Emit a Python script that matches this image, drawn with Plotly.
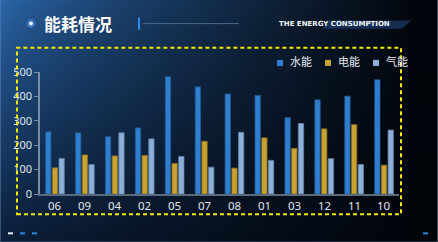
import base64, struct, zlib
import plotly.graph_objects as go

categories = ["06", "09", "04", "02", "05", "07", "08", "01", "03", "12", "11", "10"]
water = [255, 251, 235, 271, 481, 439, 410, 404, 313, 386, 401, 468]
electric = [107, 160, 156, 158, 125, 216, 106, 230, 187, 267, 284, 118]
gas = [146, 121, 251, 226, 154, 110, 253, 138, 289, 145, 121, 262]
series_names = ["水能", "电能", "气能"]
colors = ["#2f7fd0", "#c9a232", "#8db0d8"]
edge = ["#24578f", "#8a6e22", "#5f7fa3"]

W, H = 438, 242

# background gradient image (png built in memory)
def make_png(w, h, fn):
    raw = b""
    for j in range(h):
        row = b"\x00"
        for i in range(w):
            r, g, b = fn(i / (w - 1), j / (h - 1))
            row += bytes((r, g, b))
        raw += row
    def chunk(t, d):
        c = struct.pack(">I", len(d)) + t + d
        return c + struct.pack(">I", zlib.crc32(t + d) & 0xffffffff)
    png = b"\x89PNG\r\n\x1a\n"
    png += chunk(b"IHDR", struct.pack(">IIBBBBB", w, h, 8, 2, 0, 0, 0))
    png += chunk(b"IDAT", zlib.compress(raw, 9))
    png += chunk(b"IEND", b"")
    return "data:image/png;base64," + base64.b64encode(png).decode()

def grad(u, v):
    tl = (44, 104, 172); tr = (3, 7, 13); bl = (12, 32, 60); br = (2, 5, 10)
    uu = min(1.0, u * 1.05) ** 0.75
    top = [tl[k] + (tr[k] - tl[k]) * uu for k in range(3)]
    bot = [bl[k] + (br[k] - bl[k]) * uu for k in range(3)]
    vv = v ** 0.9
    return tuple(int(top[k] + (bot[k] - top[k]) * vv) for k in range(3))

bg = make_png(110, 61, grad)

fig = go.Figure()
for name, vals, c, e in zip(series_names, [water, electric, gas], colors, edge):
    fig.add_trace(go.Bar(x=categories, y=vals, name=name, showlegend=False,
                         marker=dict(color=c, line=dict(color=e, width=0.8))))

def px(x):
    return (x - 40) / 359
def py(y):
    return (194 - y) / 121

shapes = []
annotations = []
# dashed yellow frame
shapes.append(dict(type="rect", xref="paper", yref="paper", layer="above",
                   x0=px(17), x1=px(401), y0=py(214), y1=py(49),
                   line=dict(color="#f2ea00", width=2, dash="4px,3px")))

# title decorations
shapes.append(dict(type="circle", xref="paper", yref="paper", x0=px(26.5), x1=px(35.5), y0=py(29.5), y1=py(20.5),
                   fillcolor="rgba(80,150,255,0.45)", line=dict(width=0)))
shapes.append(dict(type="circle", xref="paper", yref="paper", x0=px(29), x1=px(33), y0=py(27), y1=py(23),
                   fillcolor="#e8f2ff", line=dict(width=0)))
shapes.append(dict(type="line", xref="paper", yref="paper", x0=px(139), x1=px(139), y0=py(19), y1=py(31),
                   line=dict(color="#2a8ae8", width=2)))
shapes.append(dict(type="line", xref="paper", yref="paper", x0=px(143), x1=px(239), y0=py(25), y1=py(25),
                   line=dict(color="#4a6a8c", width=1)))
shapes.append(dict(type="path", xref="paper", yref="paper",
                   path=f"M{px(330)},{py(22)} L{px(411)},{py(22)} L{px(402)},{py(30)} L{px(322)},{py(30)} Z",
                   fillcolor="rgba(35,75,135,0.55)", line=dict(width=0)))
# bottom dashes
for x0, c in [(8, "#e6eef8"), (20, "#2a86e0"), (32, "#2a86e0"), (423, "#2a86e0")]:
    shapes.append(dict(type="line", xref="paper", yref="paper", x0=px(x0), x1=px(x0 + 5), y0=py(233), y1=py(233),
                       line=dict(color=c, width=2)))
# outer border
shapes.append(dict(type="rect", xref="paper", yref="paper", x0=px(0.5), x1=px(437.5), y0=py(241.5), y1=py(0.5),
                   line=dict(color="rgba(110,140,180,0.45)", width=1)))

annotations.append(dict(text="<b>能耗情况</b>", xref="paper", yref="paper", x=px(42), y=py(25),
                        xanchor="left", yanchor="middle", showarrow=False,
                        font=dict(family="Noto Sans CJK SC", size=17, color="#ffffff")))
annotations.append(dict(text="<b>THE ENERGY CONSUMPTION</b>", xref="paper", yref="paper", x=px(277), y=py(25.5),
                        xanchor="left", yanchor="middle", showarrow=False,
                        font=dict(family="DejaVu Sans", size=7, color="#f4f6fa")))

# legend (manual)
leg_x = [277, 325, 373]
for name, c, lx in zip(series_names, colors, leg_x):
    shapes.append(dict(type="rect", xref="paper", yref="paper", x0=px(lx), x1=px(lx + 6), y0=py(67), y1=py(61),
                       fillcolor=c, line=dict(width=0)))
    annotations.append(dict(text=name, xref="paper", yref="paper", x=px(lx + 11), y=py(62),
                            xanchor="left", yanchor="middle", showarrow=False,
                            font=dict(family="Noto Sans CJK SC", size=11, color="#e4eaf2")))

# x tick labels as annotations for exact placement
for i, cat in enumerate(categories):
    annotations.append(dict(text=cat, x=i, xref="x", yref="paper", y=py(205.5),
                            xanchor="center", yanchor="middle", showarrow=False,
                            font=dict(family="Noto Sans", size=11.5, color="#e0e6ee")))

fig.update_layout(
    width=W, height=H,
    margin=dict(l=40, r=39, t=72, b=48),
    paper_bgcolor="#06101e", plot_bgcolor="rgba(0,0,0,0)",
    barmode="group", bargap=0.33, bargroupgap=0.2,
    images=[dict(source=bg, xref="paper", yref="paper", x=px(0), y=py(0),
                 sizex=438 / 359, sizey=242 / 121, xanchor="left", yanchor="top",
                 sizing="stretch", layer="below")],
    shapes=shapes, annotations=annotations,
    font=dict(family="Noto Sans", color="#d6dde8"),
    xaxis=dict(type="category", categoryorder="array", categoryarray=categories,
               range=[-0.5, len(categories) - 0.5],
               showline=True, linecolor="#5b6b7e", linewidth=2, showgrid=False, ticks="",
               showticklabels=False),
    yaxis=dict(range=[0, 500], tickvals=[0, 100, 200, 300, 400, 500], showline=True, linecolor="#7a8ca4",
               linewidth=1.5, showgrid=False, ticks="outside", ticklen=4, tickcolor="#7a8ca4",
               zeroline=False, tickfont=dict(size=11, color="#dfe5ee")),
    showlegend=False,
)
fig.write_html("out.html")
